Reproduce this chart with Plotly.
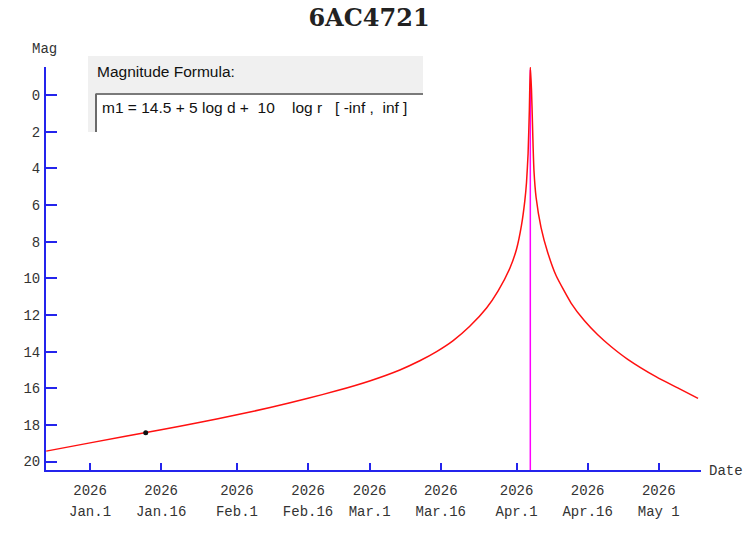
import plotly.graph_objects as go

# ---------------- data ----------------
curve_dates = [
    "2025-12-22 18:00", "2026-01-01 00:00", "2026-01-16 00:00", "2026-01-24 00:00",
    "2026-02-01 00:00", "2026-02-08 00:00", "2026-02-16 00:00", "2026-02-22 00:00",
    "2026-03-01 00:00", "2026-03-07 09:00", "2026-03-11 14:00", "2026-03-15 03:00",
    "2026-03-18 15:00", "2026-03-22 03:00", "2026-03-25 16:00", "2026-03-28 02:00",
    "2026-03-30 14:00", "2026-04-01 00:00", "2026-04-02 01:00", "2026-04-02 17:30",
    "2026-04-03 02:10", "2026-04-03 10:20", "2026-04-03 16:48", "2026-04-03 21:36",
    "2026-04-04 03:36", "2026-04-04 08:24", "2026-04-04 12:00", "2026-04-04 16:00",
    "2026-04-05 03:00", "2026-04-06 04:00", "2026-04-07 14:00", "2026-04-09 08:00",
    "2026-04-12 12:00", "2026-04-15 08:00", "2026-04-18 03:00", "2026-04-20 22:00",
    "2026-04-24 11:00", "2026-04-30 12:00", "2026-05-05 00:00", "2026-05-09 07:00",
]
curve_mags = [
    19.43, 18.98, 18.26, 17.87,
    17.45, 17.05, 16.55, 16.14,
    15.60, 15.00, 14.50, 14.00,
    13.40, 12.62, 11.62, 10.70,
    9.45, 8.40, 7.10, 5.80,
    4.80, 3.20, 0.80, -1.53,
    -0.30, 1.50, 2.90, 4.10,
    5.59, 7.23, 8.60, 9.85,
    11.35, 12.32, 13.08, 13.72,
    14.42, 15.38, 15.98, 16.55,
]

obs_dates = ["2026-01-12 18:00"]
obs_mags = [18.43]

peak_date = "2026-04-03 21:36"
peak_line_mags = [20.46, -1.4]

x_tick_dates = ["2026-01-01", "2026-01-16", "2026-02-01", "2026-02-16", "2026-03-01",
                "2026-03-16", "2026-04-01", "2026-04-16", "2026-05-01"]
x_tick_years = ["2026"] * 9
x_tick_days = ["Jan.1", "Jan.16", "Feb.1", "Feb.16", "Mar.1",
               "Mar.16", "Apr.1", "Apr.16", "May 1"]
y_tick_vals = list(range(0, 21, 2))

title_text = "6AC4721"
formula_label = "Magnitude Formula:"
formula_text = "m1 = 14.5 + 5 log d +  10    log r   [ -inf ,  inf ]"

# ---------------- layout helpers ----------------
W, H = 751, 541
PL, PR, PT, PB = 46, 701, 67, 470   # plot area in pixels


def px(x):
    return (x - PL) / (PR - PL)


def py(y):
    return (PB - y) / (PB - PT)


BLUE = "#2424ec"
MONO = "Courier New, Liberation Mono, monospace"
SANS = "Arial, Liberation Sans, sans-serif"
TXT = "#333333"

fig = go.Figure()

fig.add_trace(go.Scatter(
    x=[peak_date, peak_date], y=peak_line_mags, mode="lines",
    line=dict(color="#ff00ff", width=1.5), hoverinfo="skip", showlegend=False))

fig.add_trace(go.Scatter(
    x=curve_dates, y=curve_mags, mode="lines", line_shape="spline",
    line=dict(color="#ff1010", width=1.5, smoothing=0.5), showlegend=False))

fig.add_trace(go.Scatter(
    x=obs_dates, y=obs_mags, mode="markers",
    marker=dict(color="#111111", size=5), showlegend=False))

# invisible trace to activate the second (month label) axis
fig.add_trace(go.Scatter(
    x=[x_tick_dates[0]], y=[10], xaxis="x2", mode="markers",
    marker=dict(opacity=0), hoverinfo="skip", showlegend=False))

x_range = ["2025-12-22 17:00", "2026-05-09 22:00"]

fig.update_layout(
    width=W, height=H,
    margin=dict(l=PL, r=W - PR, t=PT, b=H - PB, pad=0),
    paper_bgcolor="white", plot_bgcolor="white",
    showlegend=False,
    title=dict(text=title_text, x=369 / W, y=1 - 18 / H, xanchor="center", yanchor="middle",
               font=dict(family="DejaVu Serif, serif", size=24,
                         color="#222222", weight="bold")),
    xaxis=dict(
        type="date", range=x_range,
        tickmode="array", tickvals=x_tick_dates, ticktext=x_tick_years,
        ticks="inside", ticklen=7, tickwidth=2, tickcolor=BLUE,
        showline=True, linecolor=BLUE, linewidth=2,
        showgrid=False, zeroline=False,
        tickfont=dict(family=MONO, size=14, color=TXT),
        ticklabelstandoff=6,
    ),
    xaxis2=dict(
        type="date", range=x_range, overlaying="x", anchor="y", side="bottom",
        tickmode="array", tickvals=x_tick_dates, ticktext=x_tick_days,
        ticks="", showline=False, showgrid=False, zeroline=False,
        tickfont=dict(family=MONO, size=14, color=TXT),
        ticklabelstandoff=31,
    ),
    yaxis=dict(
        range=[20.46, -1.53],
        tickmode="array", tickvals=y_tick_vals,
        ticks="inside", ticklen=11, tickwidth=2, tickcolor=BLUE,
        showline=True, linecolor=BLUE, linewidth=2,
        showgrid=False, zeroline=False,
        tickfont=dict(family=MONO, size=14, color=TXT),
        ticklabelstandoff=1,
    ),
)

# axis titles
fig.add_annotation(text="Mag", xref="paper", yref="paper", x=px(44), y=py(49),
                   xanchor="center", yanchor="middle", showarrow=False,
                   font=dict(family=MONO, size=14, color=TXT))
fig.add_annotation(text="Date", xref="paper", yref="paper", x=px(707), y=py(471),
                   xanchor="left", yanchor="middle", showarrow=False,
                   font=dict(family=MONO, size=14, color=TXT))

# formula panel
fig.add_shape(type="rect", xref="paper", yref="paper",
              x0=px(88), x1=px(423), y0=py(132), y1=py(56),
              fillcolor="#f0f0f0", line=dict(width=0), layer="above")
fig.add_shape(type="rect", xref="paper", yref="paper",
              x0=px(96), x1=px(423), y0=py(132), y1=py(94),
              fillcolor="white", line=dict(width=0), layer="above")
fig.add_shape(type="line", xref="paper", yref="paper",
              x0=px(95.5), x1=px(423), y0=py(94), y1=py(94),
              line=dict(color="#7a7a7a", width=2), layer="above")
fig.add_shape(type="line", xref="paper", yref="paper",
              x0=px(96), x1=px(96), y0=py(94), y1=py(132),
              line=dict(color="#6a6a6a", width=2), layer="above")

fig.add_annotation(text=formula_label, xref="paper", yref="paper", x=px(95), y=py(71),
                   xanchor="left", yanchor="middle", showarrow=False,
                   font=dict(family=SANS, size=15.5, color="#111111"))
fig.add_annotation(text=formula_text.replace(" ", "\u00a0"), xref="paper", yref="paper",
                   x=px(100), y=py(108), xanchor="left", yanchor="middle", showarrow=False,
                   font=dict(family=SANS, size=15.5, color="#111111"))

fig.write_html("out.html", config={"displayModeBar": False},
               post_script="document.body.style.margin='0';")
